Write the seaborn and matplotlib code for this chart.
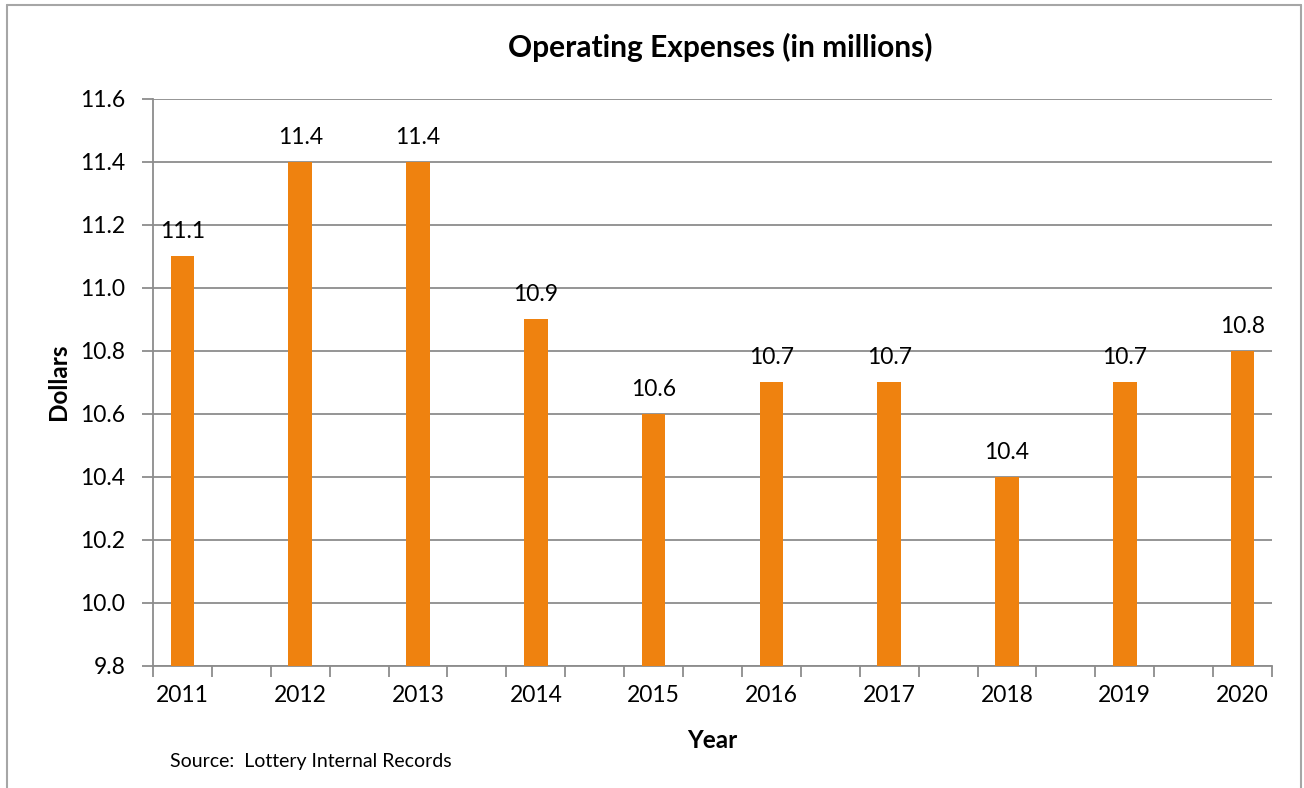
import numpy as np
import pandas as pd
import matplotlib
matplotlib.use("Agg")
import matplotlib.pyplot as plt
from matplotlib.lines import Line2D
from matplotlib.ticker import FixedLocator
import seaborn as sns

years = ["2011", "2012", "2013", "2014", "2015", "2016", "2017", "2018", "2019", "2020"]
expenses = [11.1, 11.4, 11.4, 10.9, 10.6, 10.7, 10.7, 10.4, 10.7, 10.8]
y_ticks = [9.8, 10.0, 10.2, 10.4, 10.6, 10.8, 11.0, 11.2, 11.4, 11.6]

sns.set_theme(style="white")
plt.rcParams["font.family"] = ["Lato", "DejaVu Sans"]
plt.rcParams["text.color"] = "black"
plt.rcParams["axes.labelcolor"] = "black"
plt.rcParams["xtick.color"] = "black"
plt.rcParams["ytick.color"] = "black"

W, H = 1304, 788
fig = plt.figure(figsize=(W / 100, H / 100), dpi=100)
ax = fig.add_axes([153 / W, 1 - 665.7 / H, (1272 - 153) / W, (665.7 - 98.7) / H])

df = pd.DataFrame({"Year": years, "Dollars": expenses})
grid_c = "#8C8C8C"
sns.barplot(data=df, x="Year", y="Dollars", color="#EF820F", saturation=1,
            width=0.2, ax=ax, zorder=3, linewidth=0, edgecolor="none")

ax.set_ylim(9.8, 11.6)
ax.set_xlim(-0.25, len(years) - 0.75)
ax.set_yticks(y_ticks)
ax.set_yticklabels([f"{v:.1f}" for v in y_ticks])
ax.yaxis.grid(True, color=grid_c, linewidth=1.3, zorder=0)
ax.xaxis.grid(False)
ax.set_axisbelow(True)

ax.xaxis.set_minor_locator(FixedLocator(np.arange(-0.25, len(years) - 0.5, 0.5)))
ax.tick_params(axis="x", which="major", length=0, pad=14, labelsize=16.5, labelcolor="black")
ax.tick_params(axis="x", which="minor", length=8, width=1.3, color=grid_c, bottom=True)
ax.tick_params(axis="y", which="major", length=8, width=1.3, color=grid_c, left=True,
               labelsize=16.5, labelcolor="black", pad=12)

for s in ["top", "right"]:
    ax.spines[s].set_visible(False)
for s in ["left", "bottom"]:
    ax.spines[s].set_color(grid_c)
    ax.spines[s].set_linewidth(1.3)

for c in ax.containers:
    ax.bar_label(c, labels=[f"{v:.1f}" for v in expenses], padding=10,
                 fontsize=16.5, color="black")

ax.set_xlabel("")
ax.set_ylabel("")

def fx(x):
    return x / W

def fy(y):
    return 1 - y / H

fig.text(fx(720), fy(47), "Operating Expenses (in millions)", ha="center", va="center",
         fontsize=21.5, fontweight="bold", color="black")
fig.text(fx(58), fy(382), "Dollars", ha="center", va="center", rotation=90,
         fontsize=17.5, fontweight="bold", color="black")
fig.text(fx(712), fy(741), "Year", ha="center", va="center", fontsize=17.5,
         fontweight="bold", color="black")
fig.text(fx(170), fy(762), "Source:  Lottery Internal Records", ha="left", va="center",
         fontsize=14, color="black")

border_c = "#A6A6A6"
fig.add_artist(Line2D([fx(7), fx(7)], [fy(5), 0], transform=fig.transFigure,
                      color=border_c, linewidth=1.5))
fig.add_artist(Line2D([fx(7), fx(1301)], [fy(5), fy(5)], transform=fig.transFigure,
                      color=border_c, linewidth=1.5))
fig.add_artist(Line2D([fx(1301), fx(1301)], [fy(5), 0], transform=fig.transFigure,
                      color=border_c, linewidth=1.5))

fig.savefig("out.png", dpi=100, facecolor="white")
